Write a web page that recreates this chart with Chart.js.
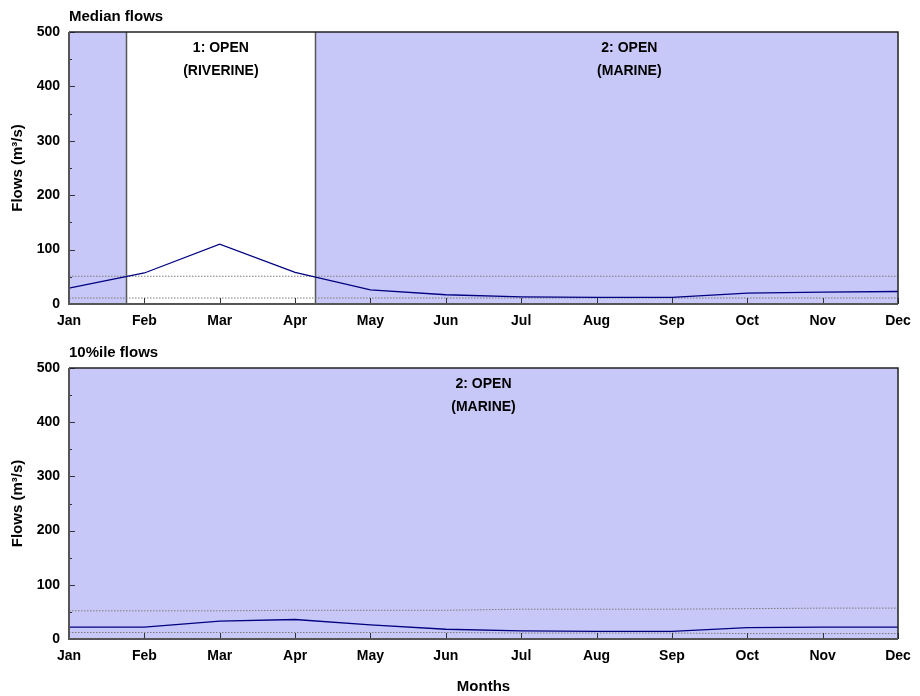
<!DOCTYPE html>
<html>
<head>
<meta charset="utf-8">
<title>Flows</title>
<script src="https://cdn.jsdelivr.net/npm/chart.js@4.4.1/dist/chart.umd.min.js"></script>
<style>
    html, body { margin: 0; padding: 0; background: #fff; }
    #wrap { position: relative; width: 920px; height: 696px; }
    #wrap canvas { position: absolute; left: 0; }
    #medianChart { top: 0; }
    #tenthChart { top: 336px; }
</style>
</head>
<body>
<div id="wrap">
    <canvas id="medianChart" width="920" height="340"></canvas>
    <canvas id="tenthChart" width="920" height="360"></canvas>
</div>
<script>
const months = ['Jan', 'Feb', 'Mar', 'Apr', 'May', 'Jun', 'Jul', 'Aug', 'Sep', 'Oct', 'Nov', 'Dec'];
const yMin = 0;
const yMax = 500;
const yStep = 100;

// median flows (m3/s) and the two reference levels
const medianFlow = [29, 57, 110, 58, 26, 17, 13, 12, 12, 20, 22, 23];
const medianUpper = [51, 51, 51, 51, 51, 51, 51, 51, 51, 51, 51, 51];
const medianLower = [11, 11, 11, 11, 11, 11, 11, 11, 11, 11, 11, 11];
// mouth state periods, in months from Jan
const medianPeriods = [
    { start: 0, end: 0.76, state: 2 },
    { start: 0.76, end: 3.27, state: 1 },
    { start: 3.27, end: 11.6, state: 2 }
];

// 10th percentile flows
const tenthFlow = [22, 22, 33, 36, 26, 18, 15, 14, 14, 21, 22, 22];
const tenthUpper = [52, 52, 52, 53, 53, 53, 55, 55, 55, 56, 57, 57];
const tenthLower = [12, 12, 12, 12, 12, 12, 11, 11, 11, 10, 10, 10];
const tenthPeriods = [
    { start: 0, end: 11, state: 2 }
];

const stateNames = {
    1: ['1: OPEN', '(RIVERINE)'],
    2: ['2: OPEN', '(MARINE)']
};

const FONT = '"Liberation Sans", Arial, Helvetica, sans-serif';
const MARINE_FILL = 'rgb(200, 200, 248)';

Chart.defaults.font.family = FONT;
Chart.defaults.color = '#000';

// shading of the mouth states, frame, inward ticks and panel title
const mouthPlugin = {
    id: 'mouth',
    beforeDatasetsDraw(chart, args, opts) {
        const ctx = chart.ctx;
        const a = chart.chartArea;
        const x = chart.scales.x;
        ctx.save();
        ctx.beginPath();
        ctx.rect(a.left, a.top, a.right - a.left, a.bottom - a.top);
        ctx.clip();

        opts.periods.forEach(function (p) {
            if (p.state !== 2) return;
            const x0 = x.getPixelForValue(p.start);
            const x1 = x.getPixelForValue(p.end);
            ctx.fillStyle = MARINE_FILL;
            ctx.fillRect(x0, a.top, x1 - x0, a.bottom - a.top);
        });

        ctx.strokeStyle = '#555';
        ctx.lineWidth = 1.5;
        opts.periods.slice(1).forEach(function (p) {
            const px = Math.round(x.getPixelForValue(p.start)) + 0.5;
            ctx.beginPath();
            ctx.moveTo(px, a.top);
            ctx.lineTo(px, a.bottom);
            ctx.stroke();
        });

        ctx.fillStyle = '#000';
        ctx.font = 'bold 14px ' + FONT;
        ctx.textAlign = 'center';
        ctx.textBaseline = 'middle';
        opts.periods.forEach(function (p) {
            if (p.end - p.start < 1.5) return;
            const cx = x.getPixelForValue((p.start + p.end) / 2);
            stateNames[p.state].forEach(function (t, i) {
                ctx.fillText(t, cx, a.top + 16 + i * 23);
            });
        });
        ctx.restore();
    },
    afterDatasetsDraw(chart, args, opts) {
        const ctx = chart.ctx;
        const a = chart.chartArea;
        const x = chart.scales.x;
        const y = chart.scales.y;
        ctx.save();

        // ticks pointing into the plot
        ctx.strokeStyle = '#333';
        ctx.lineWidth = 1;
        for (let v = yMin; v <= yMax; v += yStep / 2) {
            const py = Math.round(y.getPixelForValue(v)) + 0.5;
            const len = v % yStep === 0 ? 6 : 3;
            ctx.beginPath();
            ctx.moveTo(a.left, py);
            ctx.lineTo(a.left + len, py);
            ctx.stroke();
        }
        months.forEach(function (m, i) {
            const px = Math.round(x.getPixelForValue(i)) + 0.5;
            ctx.beginPath();
            ctx.moveTo(px, a.bottom);
            ctx.lineTo(px, a.bottom - 6);
            ctx.stroke();
        });

        // frame
        ctx.strokeStyle = '#222';
        ctx.lineWidth = 1.5;
        ctx.beginPath();
        ctx.moveTo(a.left, a.top);
        ctx.lineTo(a.right, a.top);
        ctx.lineTo(a.right, a.bottom);
        ctx.stroke();
        ctx.strokeStyle = '#555';
        ctx.lineWidth = 2;
        ctx.beginPath();
        ctx.moveTo(a.left, a.top);
        ctx.lineTo(a.left, a.bottom);
        ctx.lineTo(a.right, a.bottom);
        ctx.stroke();

        ctx.fillStyle = '#000';
        ctx.font = 'bold 15px ' + FONT;
        ctx.textAlign = 'left';
        ctx.textBaseline = 'middle';
        ctx.fillText(opts.title, a.left, a.top - 15);
        ctx.restore();
    }
};

function buildChart(canvasId, title, flow, upper, lower, periods, axisHeight, showMonths) {
    const canvas = document.getElementById(canvasId);
    if (!canvas) {
        console.error('Canvas "' + canvasId + '" not found.');
        return;
    }
    const dotted = {
        borderColor: '#7a7a7a',
        borderWidth: 1,
        borderDash: [1.5, 1.5],
        pointRadius: 0,
        fill: false,
        tension: 0
    };
    return new Chart(canvas.getContext('2d'), {
        type: 'line',
        data: {
            labels: months,
            datasets: [
                {
                    label: title,
                    data: flow,
                    borderColor: '#000080',
                    borderWidth: 1.3,
                    pointRadius: 0,
                    fill: false,
                    tension: 0
                },
                Object.assign({ label: 'upper', data: upper }, dotted),
                Object.assign({ label: 'lower', data: lower }, dotted)
            ]
        },
        options: {
            responsive: false,
            animation: false,
            layout: { padding: { top: 32, right: 22, left: 0, bottom: 0 } },
            plugins: {
                legend: { display: false },
                tooltip: { enabled: false },
                mouth: { title: title, periods: periods }
            },
            scales: {
                x: {
                    type: 'category',
                    offset: false,
                    grid: { display: false, drawTicks: false },
                    border: { display: false },
                    ticks: {
                        font: { size: 14, weight: 'bold' },
                        padding: 9,
                        maxRotation: 0,
                        autoSkip: false
                    },
                    title: {
                        display: showMonths,
                        text: 'Months',
                        font: { size: 15, weight: 'bold' },
                        padding: { top: 0, bottom: 0 }
                    },
                    afterFit: function (s) { s.height = axisHeight; }
                },
                y: {
                    min: yMin,
                    max: yMax,
                    grid: { display: false, drawTicks: false },
                    border: { display: false },
                    ticks: {
                        stepSize: yStep,
                        font: { size: 14, weight: 'bold' },
                        padding: 9
                    },
                    title: {
                        display: true,
                        text: 'Flows (m³/s)',
                        font: { size: 15, weight: 'bold' },
                        padding: { top: 9, bottom: 0 }
                    },
                    afterFit: function (s) { s.width = 69; }
                }
            }
        },
        plugins: [mouthPlugin]
    });
}

document.addEventListener('DOMContentLoaded', function () {
    buildChart('medianChart', 'Median flows', medianFlow, medianUpper, medianLower, medianPeriods, 36, false);
    buildChart('tenthChart', '10%ile flows', tenthFlow, tenthUpper, tenthLower, tenthPeriods, 57, true);
});
</script>
</body>
</html>
